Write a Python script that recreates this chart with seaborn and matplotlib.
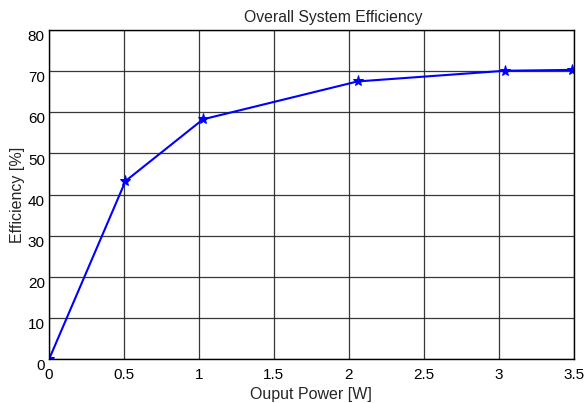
import seaborn as sns
import matplotlib.pyplot as plt
import matplotlib.transforms as mtransforms
import pandas as pd

# Output power [W] vs efficiency [%]
power = [0.0, 0.51, 1.027, 2.058, 3.042, 3.49]
efficiency = [0.0, 43.3, 58.3, 67.5, 70.1, 70.3]
x_ticks = [0, 0.5, 1, 1.5, 2, 2.5, 3, 3.5]
y_ticks = [0, 10, 20, 30, 40, 50, 60, 70, 80]

data = pd.DataFrame({'power': power, 'efficiency': efficiency})

sns.set_style('white')
plt.rcParams['font.family'] = ['Liberation Sans', 'DejaVu Sans']

fig = plt.figure(figsize=(5.85, 4.03), dpi=100)
ax = fig.add_axes([0.0838, 0.1084, 0.897, 0.8172])

sns.lineplot(data=data, x='power', y='efficiency', ax=ax, color='#0000ff',
             marker='*', markersize=8, markeredgecolor='#0000ff', linewidth=1.5)

ax.set_xlim(0, 3.5)
ax.set_ylim(0, 80)
ax.set_xticks(x_ticks)
ax.set_xticklabels([f'{t:g}' for t in x_ticks])
ax.set_yticks(y_ticks)
ax.grid(True, color='#222222', linewidth=0.9, alpha=0.9)
ax.tick_params(direction='in', labelsize=11, length=4, colors='black')
ax.tick_params(axis='x', pad=6)
ax.tick_params(axis='y', pad=3)
for s in ax.spines.values():
    s.set_color('black')
    s.set_linewidth(1.0)

# MATLAB-style: y tick labels sit slightly below their ticks
shift = mtransforms.ScaledTranslation(0, -4 / 72, fig.dpi_scale_trans)
for lab in ax.get_yticklabels():
    lab.set_transform(lab.get_transform() + shift)

ax.set_title('Overall System Efficiency', fontsize=11.3, pad=6, x=0.542)
ax.set_xlabel('Ouput Power [W]', fontsize=11.5, labelpad=4)
ax.set_ylabel('Efficiency [%]', fontsize=11.5, labelpad=2)

fig.savefig('out.png', dpi=100)
